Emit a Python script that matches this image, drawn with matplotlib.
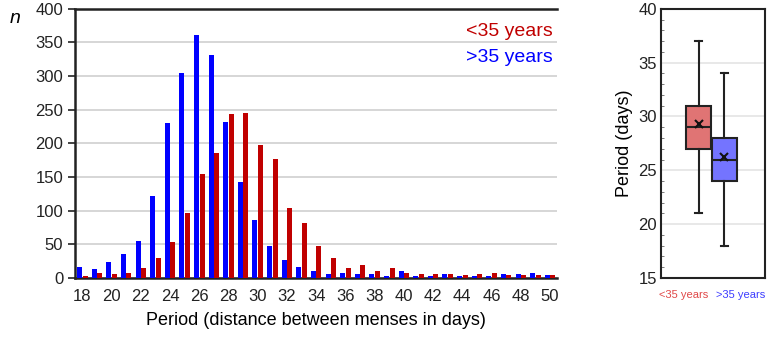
import numpy as np
import matplotlib
matplotlib.use('Agg')
import matplotlib.pyplot as plt
from matplotlib.ticker import MultipleLocator

# === данные гистограммы ===
days = list(range(18, 51))
over35 = [16, 13, 24, 36, 55, 122, 230, 304, 361, 331, 232, 142, 86, 48, 26, 16,
          10, 6, 7, 6, 6, 3, 11, 3, 3, 6, 3, 3, 3, 6, 6, 7, 5]
under35 = [3, 7, 6, 7, 14, 29, 53, 97, 154, 186, 243, 245, 197, 177, 104, 81,
           47, 29, 14, 19, 11, 14, 7, 6, 6, 6, 4, 6, 8, 4, 4, 5, 5]
xtick_days = list(range(18, 51, 2))

# === данные boxplot ===
groups = ['<35 years', '>35 years']
box_lo = [21, 18]
box_q1 = [27, 24]
box_med = [29, 26]
box_q3 = [31, 28]
box_hi = [37, 34]
box_mean = [29.3, 26.2]

RED = '#c00000'
BLUE = '#0000ff'

plt.rcParams['font.family'] = ['Liberation Sans', 'DejaVu Sans']

fig = plt.figure(figsize=(7.68, 3.41), dpi=100)

# --- гистограмма ---
ax = fig.add_axes([0.0977, 0.185, 0.628, 0.789])
x = np.arange(len(days))
w = 0.34
ax.bar(x - 0.19, over35, width=w, color=BLUE, zorder=3)
ax.bar(x + 0.19, under35, width=w, color=RED, zorder=3)
ax.set_xlim(-0.5, len(days) - 0.5)
ax.set_ylim(0, 400)
ax.set_yticks(range(0, 401, 50))
ax.yaxis.grid(True, color='#d0d0d0', linewidth=1.2, zorder=0)
ax.set_xticks([days.index(d) for d in xtick_days])
ax.set_xticklabels([str(d) for d in xtick_days])
ax.tick_params(axis='x', length=0, labelsize=12, pad=8, colors='#222222')
ax.tick_params(axis='y', length=5, width=1.2, labelsize=12, colors='#222222')
for s in ['left', 'bottom', 'top']:
    ax.spines[s].set_linewidth(1.8)
    ax.spines[s].set_color('#222222')
ax.spines['right'].set_visible(False)
ax.set_xlabel('Period (distance between menses in days)', fontsize=13, labelpad=6)
fig.text(0.013, 0.97, 'n', fontsize=14, style='italic', va='top')
ax.text(0.99, 0.915, '<35 years', color=RED, fontsize=14, ha='right', va='center',
        transform=ax.transAxes)
ax.text(0.99, 0.82, '>35 years', color=BLUE, fontsize=14, ha='right', va='center',
        transform=ax.transAxes)

# --- boxplot ---
bx = fig.add_axes([0.861, 0.185, 0.135, 0.789])
stats = []
for i in range(len(groups)):
    stats.append(dict(label=groups[i], whislo=box_lo[i], q1=box_q1[i], med=box_med[i],
                      q3=box_q3[i], whishi=box_hi[i], mean=box_mean[i], fliers=[]))
bp = bx.bxp(stats, positions=[1, 2], widths=0.94, showmeans=True, patch_artist=True,
            showfliers=False,
            boxprops=dict(edgecolor='#222222', linewidth=1.5),
            medianprops=dict(color='#222222', linewidth=1.5),
            whiskerprops=dict(color='#222222', linewidth=1.5),
            capprops=dict(color='#222222', linewidth=1.5),
            meanprops=dict(marker='x', markeredgecolor='#111111', markersize=6,
                           markeredgewidth=1.5),
            capwidths=0.3)
for patch, c in zip(bp['boxes'], ['#e07474', '#7474ff']):
    patch.set_facecolor(c)
bx.set_xlim(-0.44, 3.56)
bx.set_ylim(15, 40)
bx.set_yticks(range(15, 41, 5))
bx.yaxis.set_minor_locator(MultipleLocator(1))
bx.yaxis.grid(True, color='#e4e4e4', linewidth=1.2, zorder=0)
bx.set_axisbelow(True)
bx.set_xticks([])
bx.tick_params(axis='y', which='major', length=0, labelsize=12, colors='#222222', pad=3)
bx.tick_params(axis='y', which='minor', length=2, direction='in', color='#666666')
for s in bx.spines.values():
    s.set_linewidth(1.5)
    s.set_color('#222222')
bx.set_ylabel('Period (days)', fontsize=13, labelpad=4)
bx.text(0.22, -0.045, '<35 years', color='#e04848', fontsize=8, ha='center', va='top',
        transform=bx.transAxes)
bx.text(0.77, -0.045, '>35 years', color='#3c3cff', fontsize=8, ha='center', va='top',
        transform=bx.transAxes)

fig.savefig('out.png', dpi=100)
